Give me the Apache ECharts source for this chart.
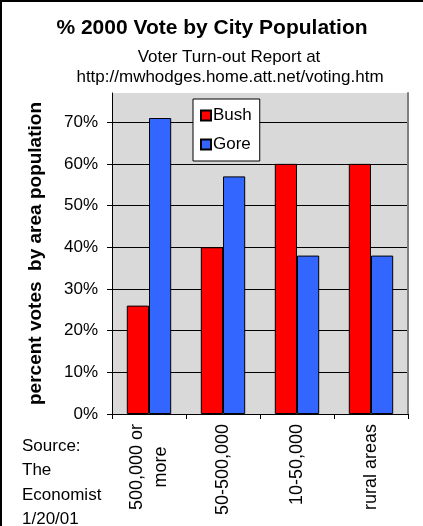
<!DOCTYPE html>
<html>
<head>
<meta charset="utf-8">
<script src="https://cdn.jsdelivr.net/npm/echarts@6/dist/echarts.min.js"></script>
<style>
html,body{margin:0;padding:0;background:#fff;}
#chart{width:423px;height:526px;}
</style>
</head>
<body>
<div id="chart"></div>
<script>
const categories = ['500,000 or\nmore', '50-500,000', '10-50,000', 'rural areas'];
const bushValues = [26, 40, 60, 60];
const goreValues = [71, 57, 38, 38];
const seriesNames = ['Bush', 'Gore'];
const titleText = '% 2000 Vote by City Population';
const subtitleLines = ['Voter Turn-out Report at', 'http://mwhodges.home.att.net/voting.htm'];
const sourceLines = ['Source:', 'The', 'Economist', '1/20/01'];
const yAxisName = 'percent votes  by area population';

const FONT = "'Liberation Sans', Arial, sans-serif";
const X_FONT_SIZE = 18;

function measure(text, size) {
  const c = document.createElement('canvas').getContext('2d');
  c.font = size + 'px ' + FONT;
  return c.measureText(text).width;
}

const chart = echarts.init(document.getElementById('chart'), null, {renderer: 'canvas'});

const firstLabelWidth = Math.max.apply(null, categories.map(c => c.split('\n')[0]).filter((c, i) => categories[i].indexOf('\n') >= 0).map(l => measure(l, X_FONT_SIZE)));

const graphics = [
  {type: 'text', x: 212, y: 28, style: {text: titleText, font: 'bold 21px ' + FONT, fill: '#000', textAlign: 'center', textVerticalAlign: 'middle'}},
  {type: 'text', x: 229, y: 57, style: {text: subtitleLines[0], font: '17px ' + FONT, fill: '#000', textAlign: 'center', textVerticalAlign: 'middle'}},
  {type: 'text', x: 230, y: 77, style: {text: subtitleLines[1], font: '17px ' + FONT, fill: '#000', textAlign: 'center', textVerticalAlign: 'middle'}},
  {type: 'polyline', shape: {points: [[1, 526], [1, 1], [423, 1]]}, style: {stroke: '#000', lineWidth: 2, fill: null}}
];
sourceLines.forEach((s, i) => {
  graphics.push({type: 'text', x: 22, y: 446 + i * 24.5, style: {text: s, font: '17px ' + FONT, fill: '#000', textAlign: 'left', textVerticalAlign: 'middle'}});
});

const option = {
  animation: false,
  backgroundColor: '#fff',
  textStyle: {fontFamily: FONT},
  grid: {left: 112, right: 15, top: 93, bottom: 112, show: true, backgroundColor: '#d9d9d9', borderWidth: 0, containLabel: false},
  legend: {
    orient: 'vertical', left: 193, top: 99,
    data: seriesNames,
    backgroundColor: '#fff', borderColor: '#000', borderWidth: 1,
    padding: [8, 8, 8, 7], itemGap: 12, itemWidth: 10, itemHeight: 10,
    icon: 'rect',
    textStyle: {fontSize: 17, color: '#000', fontFamily: FONT, padding: [0, 0, 0, -3]}
  },
  xAxis: {
    type: 'category',
    data: categories,
    axisLine: {lineStyle: {color: '#000', width: 1}},
    axisTick: {show: true, inside: false, length: 5, lineStyle: {color: '#000'}},
    axisLabel: {
      rotate: 90, margin: 10, color: '#000', fontSize: X_FONT_SIZE, fontFamily: FONT, interval: 0,
      lineHeight: 24,
      formatter: function (v) {
        if (v.indexOf('\n') < 0) return v;
        return v.split('\n').map(l => '{c|' + l + '}').join('\n');
      },
      rich: {c: {width: firstLabelWidth, align: 'center', fontSize: X_FONT_SIZE, lineHeight: 24, color: '#000', fontFamily: FONT}}
    },
    splitLine: {show: false}
  },
  yAxis: [{
    type: 'value', min: 0, max: 77, interval: 10,
    name: yAxisName, nameLocation: 'middle', nameGap: 67, nameRotate: 90,
    nameTextStyle: {fontSize: 19, fontWeight: 'bold', color: '#000', fontFamily: FONT},
    axisLine: {show: true, lineStyle: {color: '#000', width: 1}},
    axisTick: {show: true, inside: false, length: 5, lineStyle: {color: '#000'}},
    axisLabel: {formatter: '{value}%', color: '#000', fontSize: 17, fontFamily: FONT, margin: 14, showMaxLabel: false},
    splitLine: {show: true, showMaxLine: false, lineStyle: {color: '#000', width: 1}}
  }, {
    type: 'value', min: 0, max: 77, interval: 10, position: 'right',
    axisLine: {show: true, lineStyle: {color: '#808080', width: 2}},
    axisTick: {show: false}, axisLabel: {show: false}, splitLine: {show: false}
  }],
  series: [{
    name: seriesNames[0], type: 'bar', data: bushValues,
    barGap: '0%', barCategoryGap: '40%',
    itemStyle: {color: '#ff0000', borderColor: '#000', borderWidth: 1}
  }, {
    name: seriesNames[1], type: 'bar', data: goreValues,
    barGap: '0%', barCategoryGap: '40%',
    itemStyle: {color: '#3366ff', borderColor: '#000', borderWidth: 1}
  }],
  graphic: graphics
};
chart.setOption(option);
</script>
</body>
</html>
